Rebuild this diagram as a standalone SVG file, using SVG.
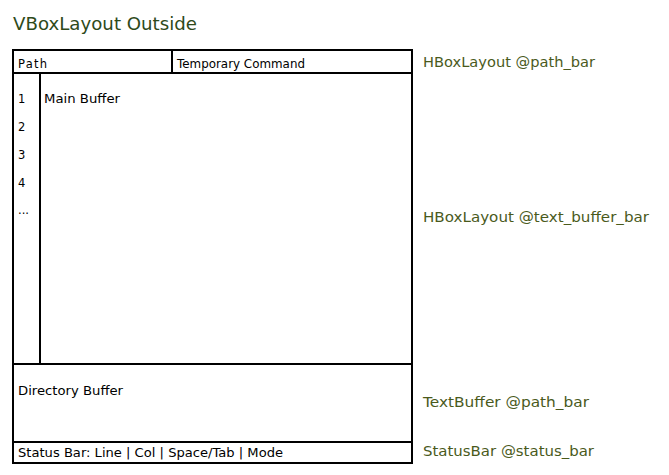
<svg xmlns="http://www.w3.org/2000/svg" width="669" height="475" viewBox="0 0 669 475">
<style>
.box{fill:#fff;stroke:#000;stroke-width:2}
.ln{stroke:#000;stroke-width:2;fill:none}
.t{font-family:"DejaVu Sans","Liberation Sans",sans-serif;font-size:11.5px;fill:#000}
.lbl{font-family:"DejaVu Sans","Liberation Sans",sans-serif;font-size:13.5px;fill:#4a5a1c}
.title{font-family:"DejaVu Sans","Liberation Sans",sans-serif;font-size:18px;fill:#2e4a1a}
</style>
<rect width="669" height="475" fill="#fff"/>
<text class="title" x="13" y="30" textLength="184" lengthAdjust="spacingAndGlyphs">VBoxLayout Outside</text>
<g id="outer">
<rect class="box" x="13" y="50" width="399" height="413"/>
</g>
<g id="path_bar">
<line class="ln" x1="13" y1="73" x2="412" y2="73"/>
<line class="ln" x1="172" y1="50" x2="172" y2="73"/>
<text class="t" x="18" y="68" textLength="29">Path</text>
<text class="t" x="177" y="68" textLength="128" lengthAdjust="spacingAndGlyphs">Temporary Command</text>
</g>
<g id="text_buffer_bar">
<line class="ln" x1="40" y1="73" x2="40" y2="364"/>
<text class="t" x="18" y="103">1</text>
<text class="t" x="18" y="131">2</text>
<text class="t" x="18" y="159">3</text>
<text class="t" x="18" y="187">4</text>
<text class="t" x="18" y="214">...</text>
<text class="t" x="44" y="103" textLength="76" lengthAdjust="spacingAndGlyphs">Main Buffer</text>
</g>
<g id="directory_buffer">
<line class="ln" x1="13" y1="364" x2="412" y2="364"/>
<text class="t" x="18" y="395" textLength="105" lengthAdjust="spacingAndGlyphs">Directory Buffer</text>
</g>
<g id="status_bar">
<line class="ln" x1="13" y1="442" x2="412" y2="442"/>
<text class="t" x="18" y="457" textLength="265" lengthAdjust="spacingAndGlyphs">Status Bar: Line | Col | Space/Tab | Mode</text>
</g>
<g id="labels">
<text class="lbl" x="423" y="67" textLength="172" lengthAdjust="spacingAndGlyphs">HBoxLayout @path_bar</text>
<text class="lbl" x="423" y="222" textLength="226" lengthAdjust="spacingAndGlyphs">HBoxLayout @text_buffer_bar</text>
<text class="lbl" x="423" y="407" textLength="166" lengthAdjust="spacingAndGlyphs">TextBuffer @path_bar</text>
<text class="lbl" x="423" y="456" textLength="171" lengthAdjust="spacingAndGlyphs">StatusBar @status_bar</text>
</g>
<g id="connectors"/>
</svg>
